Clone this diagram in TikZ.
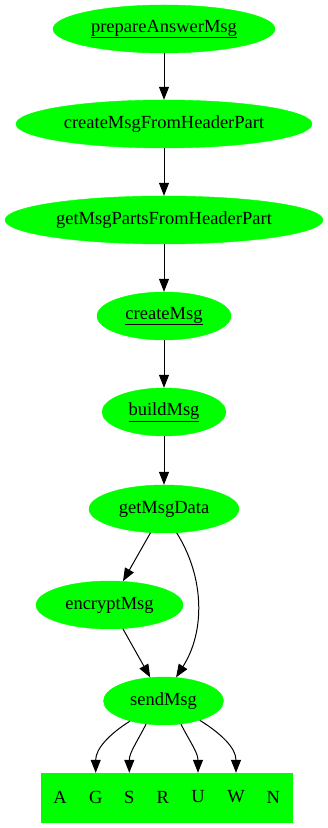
\documentclass[tikz,border=0pt]{standalone}
\usepackage{fontspec}
\setmainfont{Liberation Serif}
\usetikzlibrary{arrows.meta,shapes.geometric}
\definecolor{nodegreen}{HTML}{00FF00}
\begin{document}
\begin{tikzpicture}[x=1pt,y=1pt,
  every node/.style={font=\fontsize{18.5}{20}\selectfont},
  fn/.style={shape=ellipse, fill=nodegreen, draw=nodegreen, inner xsep=-40pt, inner ysep=0pt, minimum height=48pt},
  port/.style={inner sep=0pt},
  edge/.style={line width=1pt, -{Triangle[length=13pt,width=10pt]}}]
\useasboundingbox (0,0) rectangle (328,828);

% call chain
\node[fn, minimum width=222pt] (prep) at (164,799) {\underline{prepareAnswerMsg}};
\node[fn, minimum width=296pt] (cmfh) at (164,704) {createMsgFromHeaderPart};
\node[fn, minimum width=318pt] (gmp)  at (164,608) {getMsgPartsFromHeaderPart};
\node[fn, minimum width=134pt] (cm)   at (164,512) {\underline{createMsg}};
\node[fn, minimum width=124pt] (bm)   at (164,416) {\underline{buildMsg}};
\node[fn, minimum width=150pt] (gmd)  at (164,319) {getMsgData};
\node[fn, minimum width=147pt] (enc)  at (109.5,223) {encryptMsg};
\node[fn, minimum width=120pt] (send) at (163.5,127) {sendMsg};

% record with one field per letter
\node[fill=nodegreen, draw=nodegreen, minimum width=251pt, minimum height=49pt, inner sep=0pt] (rec) at (166.5,30.5) {};
\node[port] (pA) at (60,31) {A};
\node[port] (pG) at (95.7,31) {G};
\node[port] (pS) at (129.3,31) {S};
\node[port] (pR) at (162.7,31) {R};
\node[port] (pU) at (198,31) {U};
\node[port] (pW) at (236,31) {W};
\node[port] (pN) at (273.3,31) {N};

% edges
\draw[edge] (prep) -- (cmfh);
\draw[edge] (cmfh) -- (gmp);
\draw[edge] (gmp) -- (cm);
\draw[edge] (cm) -- (bm);
\draw[edge] (bm) -- (gmd);
\draw[edge] (gmd) -- (enc);
\draw[edge] (enc) -- (send);
\draw[edge] (gmd.298) .. controls (205,250) and (205,196) .. (send.62);
\draw[edge] (send.211) to[out=212, in=90] (rec.north -| pG);
\draw[edge] (send.233) to[out=243, in=90] (rec.north -| pS);
\draw[edge] (send.307) to[out=297, in=90] (rec.north -| pU);
\draw[edge] (send.332) to[out=328, in=90] (rec.north -| pW);
\end{tikzpicture}
\end{document}
